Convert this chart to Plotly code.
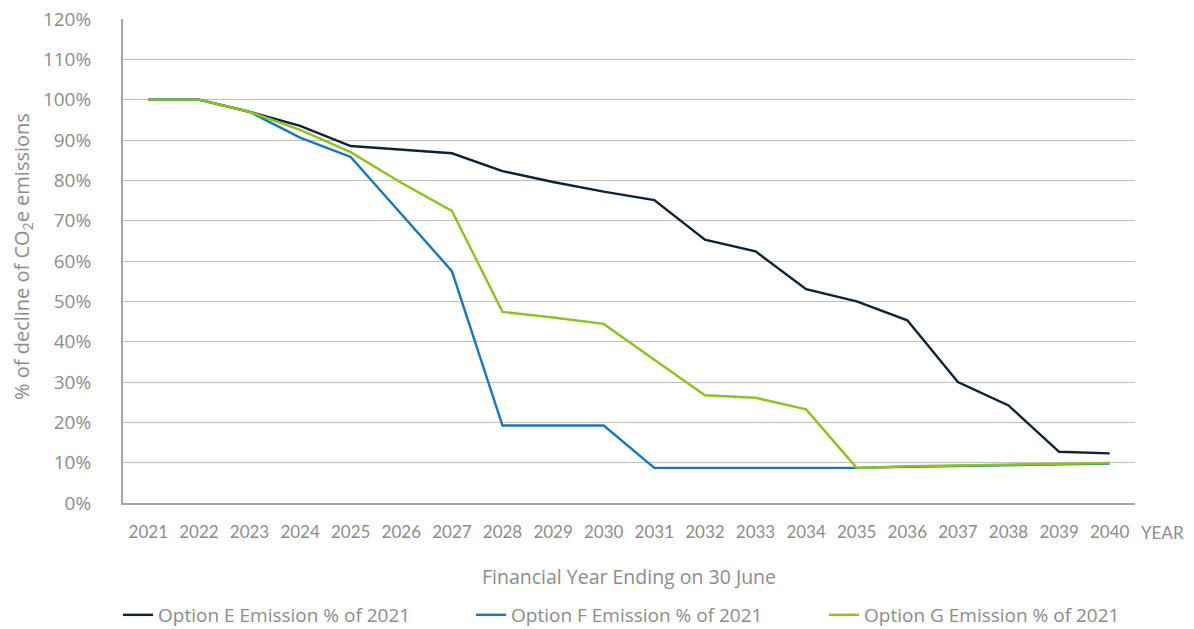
import plotly.graph_objects as go

years = [str(y) for y in range(2021, 2041)]
option_e = [100, 100, 97, 93.5, 88.5, 87.6, 86.7, 82.3, 79.6, 77.2,
            75.1, 65.3, 62.4, 53.0, 50.0, 45.3, 30.0, 24.2, 12.7, 12.3]
option_f = [100, 100, 97, 90.6, 85.8, 71.6, 57.5, 19.2, 19.2, 19.2,
            8.7, 8.7, 8.7, 8.7, 8.7, 9.0, 9.2, 9.4, 9.6, 9.8]
option_g = [100, 100, 97, 92.5, 87.0, 79.4, 72.4, 47.4, 46.0, 44.4,
            35.5, 26.7, 26.1, 23.2, 8.7, 9.1, 9.3, 9.5, 9.7, 9.9]
y_ticks = list(range(0, 121, 10))

names = ["Option E Emission % of 2021", "Option F Emission % of 2021", "Option G Emission % of 2021"]
colors = ["#0E2236", "#1B75BB", "#8DC21F"]
grey = "#8c8c8c"
wide_font = "'Open Sans', sans-serif"
narrow_font = "Lato, sans-serif"

W, H = 1186, 621  # page body has an 8px margin inside the 1194x629 window
L, R, T, B = 115, 59, 11, 126
plot_w, plot_h = W - L - R, H - T - B

fig = go.Figure()
for name, vals, col in zip(names, [option_e, option_f, option_g], colors):
    fig.add_trace(go.Scatter(x=years, y=vals, mode="lines", name=name,
                             line=dict(color=col, width=2.4)))

fig.update_layout(
    width=W, height=H,
    margin=dict(l=L, r=R, t=T, b=B, autoexpand=False),
    plot_bgcolor="white", paper_bgcolor="white",
    font=dict(family=wide_font, color=grey, size=16),
    showlegend=True,
    legend=dict(orientation="h", x=(110 - L) / plot_w, xanchor="left",
                y=(plot_h + T - 607) / plot_h, yanchor="middle",
                font=dict(size=19, color=grey, family=wide_font),
                traceorder="normal", entrywidthmode="pixels", entrywidth=308,
                bgcolor="rgba(0,0,0,0)"),
    xaxis=dict(type="category", range=[-0.5, 19.5], automargin=False,
               showgrid=False, showline=True, linecolor="#a6a6a6",
               linewidth=2, ticks="", ticklabelstandoff=13,
               tickfont=dict(size=17, color=grey, family=narrow_font),
               title=dict(text="Financial Year Ending on 30 June", standoff=29,
                          font=dict(size=19.5, color=grey, family=wide_font))),
    yaxis=dict(range=[0, 120], automargin=False, tickvals=y_ticks,
               ticktext=[f"{v}%" for v in y_ticks], ticklabeloverflow="allow",
               showgrid=True, gridcolor="#bfbfbf", gridwidth=1.2,
               showline=True, linecolor="#a6a6a6", linewidth=2, zeroline=False,
               ticks="", ticklabelstandoff=26,
               tickfont=dict(size=19, color=grey, family=wide_font)),
)
fig.add_annotation(text="% of decline of CO<sub>2</sub>e emissions", textangle=-90,
                   xref="paper", yref="paper", x=0, y=0.5, xanchor="center", yanchor="middle",
                   xshift=-101, yshift=4, showarrow=False,
                   font=dict(size=20, color=grey, family=wide_font))
fig.add_annotation(text="YEAR", xref="paper", yref="y", x=1.0, y=0,
                   xanchor="left", yanchor="middle", xshift=4, yshift=-29,
                   showarrow=False, font=dict(size=17, color=grey, family=narrow_font))

fig.write_html("out.html")
